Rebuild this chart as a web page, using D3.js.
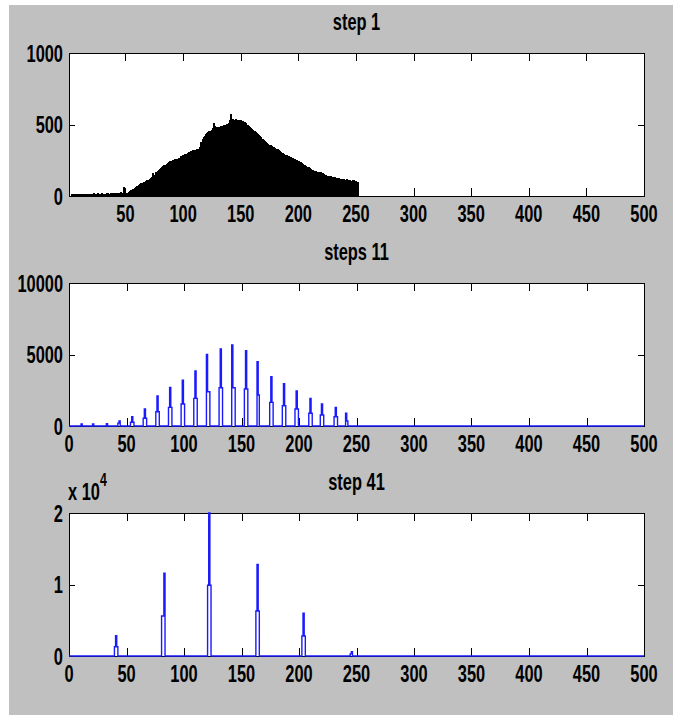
<!DOCTYPE html>
<html>
<head>
<meta charset="utf-8">
<script src="https://cdn.jsdelivr.net/npm/d3@7"></script>
<style>
  body { margin: 0; background: #fff; }
  text { font-family: "Liberation Sans", Arial, sans-serif; font-weight: bold; }
</style>
</head>
<body>
<svg id="fig" width="673" height="716"></svg>
<script>
// ---- data ----
const titles = ["step 1", "steps 11", "step 41"];
const xTicks = [0, 50, 100, 150, 200, 250, 300, 350, 400, 450, 500];

// step 1: grey level histogram, bins 0..255
const step1Counts = [
  0, 0, 0, 12, 14, 13, 15, 14, 13, 14,
  15, 14, 13, 14, 16, 15, 14, 13, 15, 14,
  16, 15, 22, 16, 15, 24, 17, 16, 15, 22,
  16, 17, 15, 18, 24, 17, 16, 18, 23, 17,
  18, 19, 24, 18, 20, 26, 21, 22, 65, 20,
  21, 24, 28, 33, 40, 44, 48, 55, 62, 68,
  72, 78, 84, 88, 92, 96, 100, 104, 110, 114,
  120, 126, 130, 160, 134, 150, 168, 175, 185, 192,
  196, 200, 208, 214, 220, 226, 230, 236, 242, 246,
  250, 252, 256, 255, 258, 262, 266, 280, 272, 285,
  288, 292, 296, 300, 306, 304, 318, 312, 320, 324,
  316, 326, 322, 330, 345, 380, 398, 410, 420, 432,
  440, 448, 452, 458, 465, 475, 512, 488, 478, 480,
  476, 482, 490, 488, 492, 495, 500, 505, 498, 510,
  530, 571, 540, 532, 528, 536, 530, 525, 534, 528,
  522, 526, 520, 515, 510, 500, 492, 485, 478, 470,
  462, 455, 448, 440, 432, 425, 418, 410, 402, 395,
  388, 380, 372, 365, 360, 355, 350, 345, 340, 335,
  330, 326, 320, 314, 308, 302, 298, 294, 290, 286,
  282, 278, 275, 270, 266, 262, 258, 254, 250, 246,
  242, 238, 232, 226, 220, 214, 208, 204, 200, 196,
  190, 185, 180, 176, 172, 170, 168, 166, 170, 165,
  160, 155, 150, 146, 142, 140, 138, 140, 136, 134,
  132, 130, 128, 126, 124, 122, 120, 122, 118, 116,
  115, 118, 114, 112, 110, 108, 106, 112, 104, 108,
  100, 96, 0, 0, 0, 0
];
const step1YTicks = [0, 500, 1000];

// step 11: only the non-empty bins
const step11Bins = [11, 21, 33, 43, 44,
  54, 55, 56, 65, 66, 67, 76, 77, 78, 87, 88, 89, 98, 99, 100,
  109, 110, 111, 120, 121, 122, 131, 132, 133, 142, 143, 144,
  153, 154, 155, 164, 165, 175, 176, 177, 186, 187, 188,
  197, 198, 199, 209, 210, 211, 219, 220, 221, 231, 232, 233, 241, 242];
const step11Counts = [140, 140, 160, 200, 350,
  260, 650, 260, 540, 1190, 540, 1000, 2100, 1000, 1300, 2700, 1300, 1540, 3200, 1540,
  1930, 3850, 1930, 5010, 2400, 2400, 2680, 5380, 2680, 5660, 2680, 2680,
  2590, 5270, 2590, 4500, 2170, 1650, 3450, 1650, 1420, 2960, 1420,
  1190, 2450, 1190, 890, 1930, 890, 770, 1540, 770, 650, 1300, 650, 890, 350];
const step11YTicks = [0, 5000, 10000];

// step 41
const step41Bins = [40, 41, 42, 81, 82, 83, 121, 122, 123, 163, 164, 165, 203, 204, 205, 245, 246];
const step41Counts = [1300, 2840, 1300, 5600, 5600, 11570, 9900, 20000, 9900,
  6300, 12800, 6300, 2800, 6000, 2800, 300, 600];
const step41YTicks = [0, 10000, 20000];
const step41YLabels = ["0", "1", "2"];

// ---- layout ----
const svg = d3.select("#fig");
const left = 69, right = 644, plotH = 143;
const tops = [53, 283, 513];
const fs = 20;
const squeeze = "scale(0.82,1.2)";   // narrow, tall matlab font look

svg.append("rect").attr("x", 9).attr("y", 5).attr("width", 664).attr("height", 710)
  .attr("fill", "#c0c0c0");

function toSeries(bins, counts) {
  // histogram over 0..500 with empty bins as zero
  const m = new Map(bins.map((b, i) => [b, counts[i]]));
  return d3.range(0, 501).map(b => ({ b: b, c: m.get(b) || 0 }));
}

function label(g, x, y, str, anchor, size) {
  g.append("text")
    .attr("transform", "translate(" + x + "," + y + ") " + squeeze)
    .attr("text-anchor", anchor)
    .attr("font-size", size || fs)
    .text(str);
}

function panel(i, xDomain, yMax, yTicks, yLabels) {
  const top = tops[i];
  const x = d3.scaleLinear().domain(xDomain).range([left, right]);
  const y = d3.scaleLinear().domain([0, yMax]).range([top + plotH, top]);
  const g = svg.append("g");

  g.append("rect").attr("x", left).attr("y", top).attr("width", right - left).attr("height", plotH)
    .attr("fill", "#fff");

  const clipId = "clip" + i;
  g.append("clipPath").attr("id", clipId).append("rect")
    .attr("x", left).attr("y", top - 1).attr("width", right - left + 1).attr("height", plotH + 2);

  return { g, x, y, top, clipId, yTicks, yLabels };
}

function frame(p) {
  const { g, x, y, top } = p;
  const bottom = top + plotH;
  const xt = xTicks.filter(t => t >= x.domain()[0]);
  const ax = g.append("g").attr("fill", "none").attr("stroke", "#000");
  ax.append("rect").attr("x", left + 0.5).attr("y", top + 0.5)
    .attr("width", right - left).attr("height", plotH).attr("stroke-width", 1);

  const inner = xt.filter(t => t > 0 && t < 500);
  ax.selectAll(".tb").data(inner).enter().append("line")
    .attr("x1", d => Math.round(x(d)) + 0.5).attr("x2", d => Math.round(x(d)) + 0.5)
    .attr("y1", bottom).attr("y2", bottom - 8);
  ax.selectAll(".tt").data(inner).enter().append("line")
    .attr("x1", d => Math.round(x(d)) + 0.5).attr("x2", d => Math.round(x(d)) + 0.5)
    .attr("y1", top).attr("y2", top + 8);
  const yin = p.yTicks.slice(1, -1);
  ax.selectAll(".tl").data(yin).enter().append("line")
    .attr("x1", left).attr("x2", left + 6)
    .attr("y1", d => Math.round(y(d)) + 0.5).attr("y2", d => Math.round(y(d)) + 0.5);
  ax.selectAll(".tr").data(yin).enter().append("line")
    .attr("x1", right).attr("x2", right - 6)
    .attr("y1", d => Math.round(y(d)) + 0.5).attr("y2", d => Math.round(y(d)) + 0.5);

  xt.forEach(t => label(g, x(t), bottom + 26, String(t), "middle"));
  p.yTicks.forEach((t, k) => label(g, left - 6, y(t) + 8.5, p.yLabels ? p.yLabels[k] : String(t), "end"));
}

// step 1
const p1 = panel(0, [1, 500], 1000, step1YTicks);
p1.g.append("g").attr("clip-path", "url(#" + p1.clipId + ")")
  .attr("shape-rendering", "crispEdges")
  .selectAll("rect.bar").data(step1Counts).enter().append("rect")
  .attr("x", (d, b) => p1.x(b))
  .attr("width", p1.x(2) - p1.x(1) + 1)
  .attr("y", d => p1.y(d))
  .attr("height", d => p1.y(0) - p1.y(d))
  .attr("fill", "#000");
frame(p1);

// step 11 & 41 as line plots
const line = (p) => d3.line().curve(d3.curveStep).x(d => p.x(d.b)).y(d => p.y(d.c));

const p2 = panel(1, [0, 500], 10000, step11YTicks);
frame(p2);
p2.g.append("path").datum(toSeries(step11Bins, step11Counts))
  .attr("clip-path", "url(#" + p2.clipId + ")")
  .attr("d", line(p2)).attr("fill", "none").attr("stroke", "#1a1aff").attr("stroke-width", 1.4);

const p3 = panel(2, [0, 500], 20000, step41YTicks, step41YLabels);
frame(p3);
p3.g.append("path").datum(toSeries(step41Bins, step41Counts))
  .attr("clip-path", "url(#" + p3.clipId + ")")
  .attr("d", line(p3)).attr("fill", "none").attr("stroke", "#1a1aff").attr("stroke-width", 1.4);

// titles
titles.forEach((t, i) => label(svg, (left + right) / 2, tops[i] - 23, t, "middle"));

// exponent label
const ex = svg.append("text")
  .attr("transform", "translate(68," + (tops[2] - 13) + ") " + squeeze)
  .attr("font-size", fs);
ex.append("tspan").text("x 10");
ex.append("tspan").attr("font-size", 15).attr("dy", -12).text("4");
</script>
</body>
</html>
